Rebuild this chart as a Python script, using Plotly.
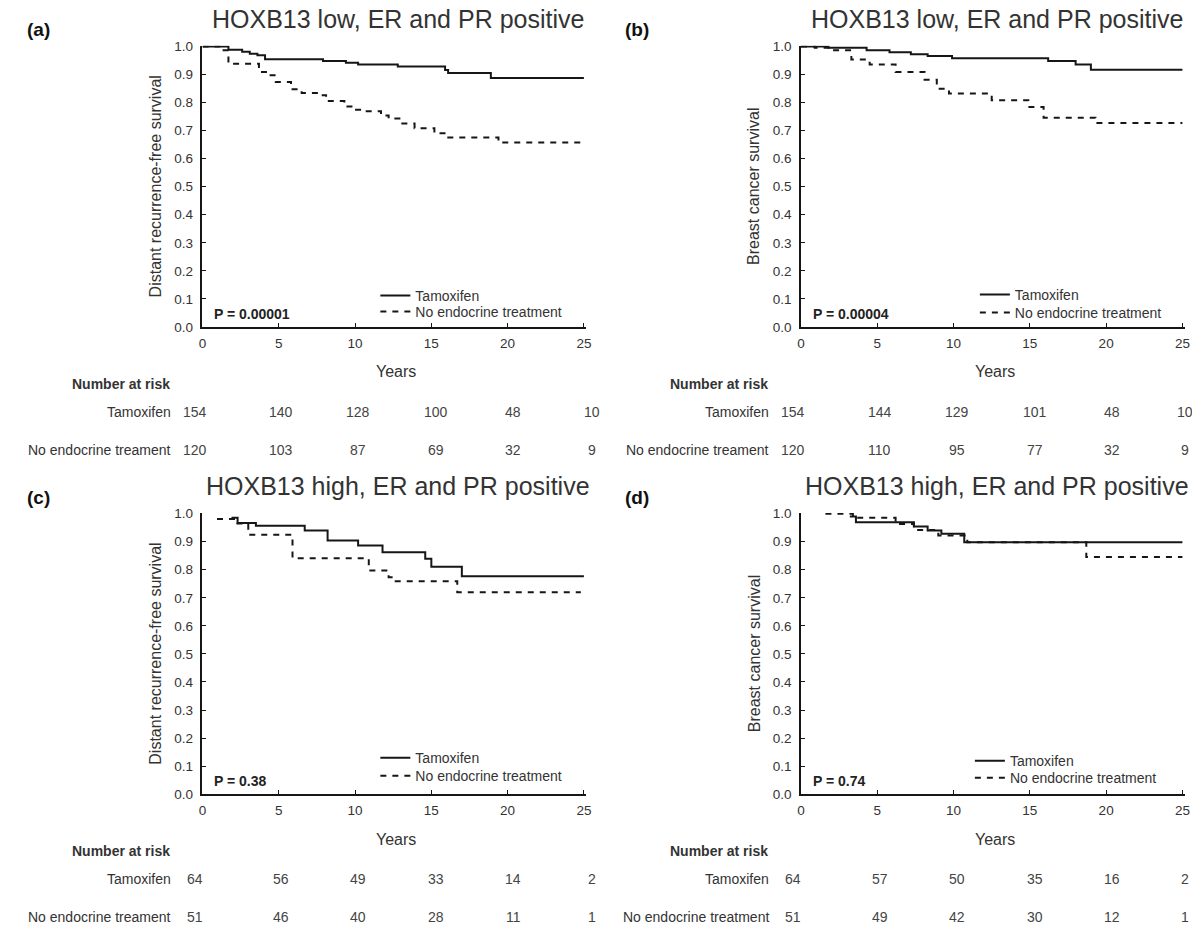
import plotly.graph_objects as go

W, H = 1200, 934
FONT = "Liberation Sans, Arial, sans-serif"

# ---------------- data ----------------
panel_labels = ["(a)", "(b)", "(c)", "(d)"]
titles = ["HOXB13 low, ER and PR positive", "HOXB13 low, ER and PR positive",
          "HOXB13 high, ER and PR positive", "HOXB13 high, ER and PR positive"]
ytitles = ["Distant recurrence-free survival", "Breast cancer survival",
           "Distant recurrence-free survival", "Breast cancer survival"]
pvalues = ["P = 0.00001", "P = 0.00004", "P = 0.38", "P = 0.74"]
series_names = ["Tamoxifen", "No endocrine treatment"]
year_ticks = [0, 5, 10, 15, 20, 25]
surv_ticks = [0.0, 0.1, 0.2, 0.3, 0.4, 0.5, 0.6, 0.7, 0.8, 0.9, 1.0]

# (a)
a_tam_t = [0, 1.7, 2.6, 3.1, 3.6, 4.1, 7.9, 9.4, 10.2, 12.8, 15.9, 16.1, 18.9, 25]
a_tam_s = [1.0, 0.988, 0.981, 0.974, 0.968, 0.954, 0.948, 0.942, 0.935, 0.928, 0.916, 0.905, 0.887, 0.887]
a_no_t = [0, 1.1, 1.7, 3.7, 4.3, 4.8, 5.8, 6.5, 7.7, 8.1, 9.3, 10.0, 10.6, 11.7, 12.2, 13.0, 13.9, 15.2, 16.0, 19.4, 25]
a_no_s = [1.0, 0.986, 0.938, 0.909, 0.897, 0.873, 0.847, 0.834, 0.826, 0.805, 0.786, 0.774, 0.769, 0.754, 0.743, 0.725, 0.708, 0.690, 0.675, 0.657, 0.657]
# (b)
b_tam_t = [0, 1.8, 4.3, 5.8, 7.2, 8.3, 9.9, 16.2, 18.0, 19.0, 25]
b_tam_s = [1.0, 0.995, 0.986, 0.979, 0.972, 0.966, 0.958, 0.948, 0.935, 0.917, 0.917]
b_no_t = [0, 0.9, 2.0, 3.3, 4.5, 6.2, 8.1, 8.9, 9.7, 12.5, 14.9, 15.9, 19.3, 25]
b_no_s = [1.0, 0.995, 0.986, 0.953, 0.935, 0.909, 0.881, 0.849, 0.832, 0.808, 0.784, 0.746, 0.727, 0.727]
# (c)
c_tam_t = [1.9, 2.3, 3.5, 6.7, 8.2, 10.2, 11.8, 14.6, 15.0, 17.0, 25]
c_tam_s = [0.985, 0.967, 0.957, 0.940, 0.904, 0.886, 0.862, 0.839, 0.811, 0.777, 0.777]
c_no_t = [0.95, 2.2, 3.0, 5.9, 10.9, 12.2, 12.5, 16.7, 24.8]
c_no_s = [0.981, 0.965, 0.925, 0.841, 0.797, 0.773, 0.759, 0.720, 0.720]
# (d)
d_tam_t = [3.2, 3.6, 7.4, 8.3, 9.2, 10.7, 25]
d_tam_s = [0.99, 0.969, 0.954, 0.940, 0.928, 0.898, 0.898]
d_no_t = [1.6, 3.4, 6.2, 7.4, 9.0, 10.9, 18.7, 25]
d_no_s = [1.0, 0.985, 0.963, 0.942, 0.922, 0.898, 0.845, 0.845]

# number at risk
a_risk_tam = [154, 140, 128, 100, 48, 10]
a_risk_no = [120, 103, 87, 69, 32, 9]
b_risk_tam = [154, 144, 129, 101, 48, 10]
b_risk_no = [120, 110, 95, 77, 32, 9]
c_risk_tam = [64, 56, 49, 33, 14, 2]
c_risk_no = [51, 46, 40, 28, 11, 1]
d_risk_tam = [64, 57, 50, 35, 16, 2]
d_risk_no = [51, 49, 42, 30, 12, 1]
risk_row_labels = [
    ["Tamoxifen", "No endocrine treament"],
    ["Tamoxifen", "No endocrine treament"],
    ["Tamoxifen", "No endocrine treament"],
    ["Tamoxifen", "No endocrine treatment"],
]

curves = [
    (a_tam_t, a_tam_s, a_no_t, a_no_s),
    (b_tam_t, b_tam_s, b_no_t, b_no_s),
    (c_tam_t, c_tam_s, c_no_t, c_no_s),
    (d_tam_t, d_tam_s, d_no_t, d_no_s),
]
risks = [(a_risk_tam, a_risk_no), (b_risk_tam, b_risk_no),
         (c_risk_tam, c_risk_no), (d_risk_tam, d_risk_no)]

# ---------------- layout geometry (target pixels in the photo) ----------------
plot_left = [202, 801, 202, 801]
plot_w = 384
plot_top = [46, 46, 513, 513]
plot_h = 281
risk_col_dx_left = [-8, 79, 156, 234, 311, 390]
risk_col_dx_right = [-8, 79, 156, 234, 311, 384]

# empirical photo <- layout mapping (photo = A*layout + B)
AX, BX = 0.9933, 11.35
AY, BY = 0.9834, 15.2


def px(x):
    return ((x - BX) / AX) / W


def py(y):
    return 1 - ((y - BY) / AY) / H


fig = go.Figure()
annotations = []
layout_axes = {}
TXT = "#333333"
LINE = "#161616"

legend_no = 1
for i in range(4):
    n = i + 1
    xa = "x" if n == 1 else f"x{n}"
    ya = "y" if n == 1 else f"y{n}"
    L, T = plot_left[i], plot_top[i]
    tt, ts, nt, ns = curves[i]

    # legends (one item each so rows can be placed precisely)
    if i == 0:
        leg_x, leg_rows = 375, (295, 311)
    elif i == 1:
        leg_x, leg_rows = 975, (294, 312)
    elif i == 2:
        leg_x, leg_rows = 375, (757, 775)
    else:
        leg_x, leg_rows = 970, (760, 777)

    legs = []
    for r in range(2):
        lname = "legend" if legend_no == 1 else f"legend{legend_no}"
        legend_no += 1
        legs.append(lname)
        fig.layout[lname] = dict(x=px(leg_x), y=py(leg_rows[r] - 15), xanchor="left", yanchor="top",
                                 bgcolor="rgba(0,0,0,0)", borderwidth=0,
                                 font=dict(family=FONT, size=14, color=TXT),
                                 itemwidth=30, tracegroupgap=0)

    fig.add_trace(go.Scatter(x=tt, y=ts, mode="lines", line=dict(color=LINE, width=2, shape="hv"),
                             name=series_names[0], xaxis=xa, yaxis=ya, legend=legs[0]))
    fig.add_trace(go.Scatter(x=nt, y=ns, mode="lines",
                             line=dict(color=LINE, width=2, shape="hv", dash="6px,6px"),
                             name=series_names[1], xaxis=xa, yaxis=ya, legend=legs[1]))

    xkey = "xaxis" if n == 1 else f"xaxis{n}"
    ykey = "yaxis" if n == 1 else f"yaxis{n}"
    layout_axes[xkey] = dict(
        domain=[px(L), px(L + plot_w)], anchor=ya, range=[0, 25.15],
        tickvals=year_ticks, ticks="inside", ticklen=4, tickcolor=LINE,
        showline=True, linecolor=LINE, linewidth=1.5, showgrid=False, zeroline=False,
        tickfont=dict(family=FONT, size=13.5, color=TXT), ticklabelstandoff=3, fixedrange=True,
    )
    layout_axes[ykey] = dict(
        domain=[py(T + plot_h), py(T)], anchor=xa, range=[0, 1.002],
        tickvals=surv_ticks, tickformat=".1f",
        ticks="inside", ticklen=4, tickcolor=LINE,
        showline=True, linecolor=LINE, linewidth=1.5, showgrid=False, zeroline=False,
        tickfont=dict(family=FONT, size=13.5, color=TXT), ticklabelstandoff=5, fixedrange=True,
    )

    def ann(text, x, y, size, xanchor="center", yanchor="middle", color=TXT, angle=0):
        annotations.append(dict(text=text, x=px(x), y=py(y), xref="paper", yref="paper",
                                showarrow=False, xanchor=xanchor, yanchor=yanchor,
                                textangle=angle, font=dict(family=FONT, size=size, color=color)))

    col_dx = risk_col_dx_left if i in (0, 2) else risk_col_dx_right
    ann(f"<b>{panel_labels[i]}</b>", L - 164, T - 16, 19, color="#111111")
    ann(titles[i], L + 196, T - 27, 25)
    ann(ytitles[i], L - 47, T + 141, 16, angle=-90)
    ann("Years", L + 194, T + 326, 16)
    ann(f"<b>{pvalues[i]}</b>", L + 10, T + 268, 14, xanchor="left", color="#222222")
    ann("<b>Number at risk</b>", L - 31, T + 338, 14, xanchor="right")
    for r, (lab, vals) in enumerate(zip(risk_row_labels[i], risks[i])):
        yy = T + 366 + r * 38
        ann(lab, L - 30, yy, 14, xanchor="right")
        for k, v in enumerate(vals):
            ann(str(v), L + col_dx[k], yy, 14, color="#444444")

fig.update_layout(
    width=W, height=H, margin=dict(l=0, r=0, t=0, b=0),
    paper_bgcolor="white", plot_bgcolor="white",
    annotations=annotations, showlegend=True,
    font=dict(family=FONT, color=TXT),
    **layout_axes,
)

fig.write_html("out.html")
